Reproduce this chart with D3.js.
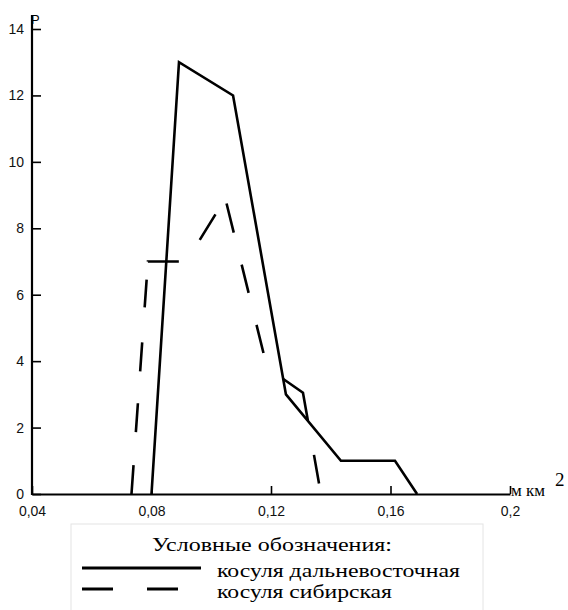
<!DOCTYPE html>
<html>
<head>
<meta charset="utf-8">
<script src="https://cdn.jsdelivr.net/npm/d3@7"></script>
<style>
  body { margin: 0; background: #fff; }
  svg { display: block; }
</style>
</head>
<body>
<svg id="chart" width="568" height="610"></svg>
<script>
// frequency polygons, area (sq km) vs P
const farEastX = [0.08, 0.0892, 0.1073, 0.125, 0.1434, 0.1615, 0.1689];
const farEastP = [0, 13, 12, 3, 1, 1, 0];

const siberianX = [0.0733, 0.0788, 0.0917, 0.1047, 0.1187, 0.1307, 0.1367];
const siberianP = [0, 7, 7, 8.9, 3.8, 3.05, 0];

const xTicks = [0.04, 0.08, 0.12, 0.16, 0.2];
const yTicks = [0, 2, 4, 6, 8, 10, 12, 14];

const legendTitle = "Условные обозначения:";
const seriesNames = ["косуля дальневосточная", "косуля сибирская"];

const svg = d3.select("#chart");

const x = d3.scaleLinear().domain([0.04, 0.2]).range([32, 510]);
const y = d3.scaleLinear().domain([0, 14]).range([494, 29]);

const comma = d3.formatLocale({ decimal: ",", thousands: " ", grouping: [3], currency: ["", ""] });
const fmt = comma.format("~g");

const sans = "Liberation Sans, Arial, sans-serif";
const serif = "Liberation Serif, Times New Roman, serif";

// x axis
const xAxis = svg.append("g")
    .attr("transform", `translate(0,${y(0)})`)
    .call(d3.axisBottom(x).tickValues(xTicks).tickFormat(fmt)
        .tickSizeInner(-8).tickSizeOuter(0).tickPadding(12));
xAxis.select(".domain").attr("stroke-width", 2.2);
xAxis.selectAll(".tick line").attr("stroke-width", 1.6);
xAxis.selectAll(".tick text")
    .style("font-family", sans)
    .style("font-size", "14px").attr("fill", "#111");

// y axis
const yAxis = svg.append("g")
    .attr("transform", `translate(${x(0.04)},0)`)
    .call(d3.axisLeft(y).tickValues(yTicks)
        .tickSizeInner(-9).tickSizeOuter(0).tickPadding(8));
yAxis.select(".domain").remove();
yAxis.selectAll(".tick line").attr("stroke-width", 1.6);
yAxis.selectAll(".tick text")
    .style("font-family", sans)
    .style("font-size", "14px").attr("fill", "#111");

svg.append("line")
    .attr("x1", x(0.04)).attr("x2", x(0.04))
    .attr("y1", y(0) + 1).attr("y2", 15)
    .attr("stroke", "#000").attr("stroke-width", 2.2);

svg.append("text")
    .attr("x", x(0.04) - 1).attr("y", 24)
    .style("font-family", sans)
    .style("font-size", "13px")
    .text("Р");

// unit label at axis end
svg.append("text")
    .attr("x", x(0.2) + 1).attr("y", y(0) + 2)
    .style("font-family", serif)
    .style("font-size", "17px")
    .text("м км");
svg.append("text")
    .attr("x", 555).attr("y", 486)
    .style("font-family", serif)
    .style("font-size", "19px")
    .text("2");

const line = d3.line().x(d => x(d[0])).y(d => y(d[1]));

svg.append("path")
    .datum(d3.zip(farEastX, farEastP))
    .attr("fill", "none").attr("stroke", "#000")
    .attr("stroke-width", 2.6).attr("stroke-linejoin", "miter")
    .attr("d", line);

// hand-drawn looking dash rhythm of the original
svg.append("path")
    .datum(d3.zip(siberianX, siberianP))
    .attr("fill", "none").attr("stroke", "#000")
    .attr("stroke-width", 2.6)
    .attr("stroke-dasharray", "29,33,29,32,29,35,28,18,31,33,30,24,30,33,29,33,29,34,53,35,29,60")
    .attr("d", line);

// legend
const legend = svg.append("g");
legend.append("rect")
    .attr("x", 71).attr("y", 524).attr("width", 412).attr("height", 100)
    .attr("fill", "#fff").attr("stroke", "#e4e4e4").attr("stroke-width", 1);

legend.append("text")
    .attr("x", 152).attr("y", 551)
    .attr("textLength", 240).attr("lengthAdjust", "spacingAndGlyphs")
    .style("font-family", serif)
    .style("font-size", "19px")
    .text(legendTitle);

const rows = [
    { name: seriesNames[0], dash: null, y: 568, w: 243 },
    { name: seriesNames[1], dash: "31,34", y: 589, w: 175 }
];
rows.forEach(r => {
    legend.append("line")
        .attr("x1", 82).attr("x2", 201).attr("y1", r.y).attr("y2", r.y)
        .attr("stroke", "#000").attr("stroke-width", 3)
        .attr("stroke-dasharray", r.dash);
    legend.append("text")
        .attr("x", 217).attr("y", r.y + 9)
        .attr("textLength", r.w).attr("lengthAdjust", "spacingAndGlyphs")
        .style("font-family", serif)
        .style("font-size", "19px")
        .text(r.name);
});
</script>
</body>
</html>
